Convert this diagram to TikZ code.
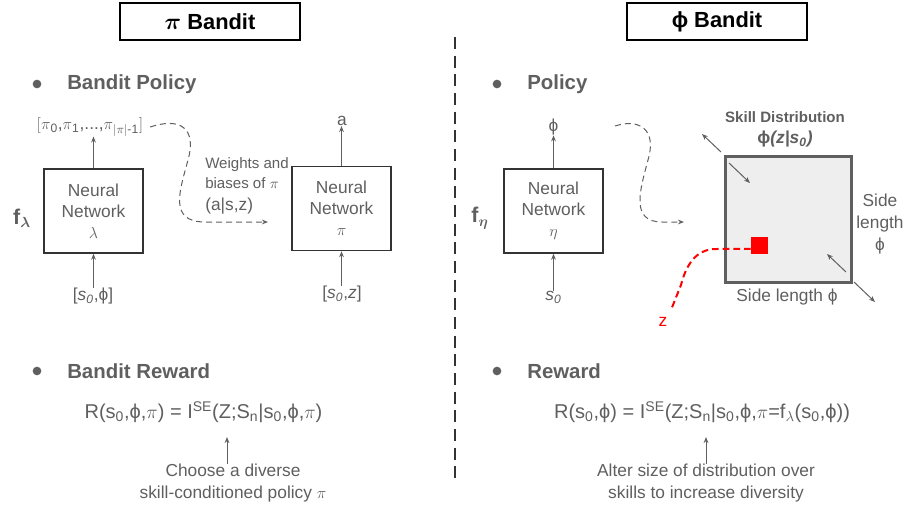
\documentclass[tikz,border=0pt]{standalone}
\usepackage{fontspec}
\setmainfont{Liberation Sans}
\usepackage{amsmath}
\usetikzlibrary{arrows.meta}
\definecolor{txt}{HTML}{5F5F5F}
\definecolor{ln}{HTML}{333333}
\definecolor{sq}{HTML}{EEEEEE}
\begin{document}
\begin{tikzpicture}[x=0.75pt,y=-0.75pt,
  every node/.style={text=txt, inner sep=0pt},
  body/.style={font=\fontsize{13}{16.5}\selectfont},
  head/.style={font=\bfseries\fontsize{15.3}{18}\selectfont, anchor=west},
  small/.style={font=\fontsize{11.3}{14}\selectfont, anchor=base west},
  titlebox/.style={draw=black, line width=1.1pt, minimum width=135pt, minimum height=27.75pt, text=black, font=\bfseries\fontsize{16.4}{19}\selectfont},
  nnbox/.style={draw=ln, line width=1.1pt, minimum width=74.25pt, minimum height=63pt, align=center, font=\fontsize{13}{15.75}\selectfont},
  arr/.style={draw=txt, line width=0.75pt, -{Stealth[length=4.5pt,width=3.5pt]}},
  darr/.style={draw=txt, line width=0.75pt, dash pattern=on 4.5pt off 3pt, -{Stealth[length=4.5pt,width=3.5pt]}},
  bullet/.style={circle, fill=txt, minimum size=6.5pt},
  formula/.style={font=\fontsize{15}{18}\selectfont},
  fsub/.style={font=\bfseries\fontsize{16}{19}\selectfont},
]
\useasboundingbox (0,0) rectangle (907,510);

% titles
\node[titlebox] (t1) at (210,21.5) {$\boldsymbol{\pi}$ Bandit};
\node[titlebox] (t2) at (717,21.5) {ϕ Bandit};

% divider
\coordinate (d1) at (455,37);
\coordinate (d2) at (455,478);
\draw[ln, line width=1pt, dash pattern=on 9pt off 5pt] (d1) -- (d2);

% headings
\node[bullet] (b1) at (37,84) {};
\node[head] (h1) at (67,84) {Bandit Policy};
\node[bullet] (b2) at (497,84) {};
\node[head] (h2) at (527,84) {Policy};
\node[bullet] (b3) at (37,371) {};
\node[head] (h3) at (67,371) {Bandit Reward};
\node[bullet] (b4) at (497,371) {};
\node[head] (h4) at (527,371) {Reward};

% left network lambda
\node[nnbox] (nnl) at (93.5,211) {Neural\\Network\\$\lambda$};
\node[body] (outl) at (90,127) {$[\pi$\textsubscript{0},$\pi$\textsubscript{1},...,$\pi$\textsubscript{$|\pi|$-1}$]$};
\node[body] (inl) at (93,296) {[\textit{s}\textsubscript{\textit{0}},ϕ]};
\draw[arr] (inl.north -| nnl.south) -- (nnl.south);
\draw[arr] (nnl.north) -- (nnl.north |- outl.south);
\node[fsub] (fl) at (22,218) {f$_{\boldsymbol{\lambda}}$};

% weights label
\node[small] (w1) at (205,168) {Weights and};
\node[small] (w2) at (205,188) {biases of $\pi$};
\node[body, anchor=base west] (w3) at (205,210) {(a|s,z)};
\coordinate (wend) at (268,222);
\draw[darr] ([xshift=5pt]outl.east) .. controls (180,117) and (197,128) .. (188,160) .. controls (180,190) and (168,222) .. (205,222) -- (wend);

% pi network
\node[nnbox] (nnp) at (341.5,208.5) {Neural\\Network\\$\pi$};
\node[body] (aout) at (342,121) {a};
\node[body] (inp) at (342,294) {[\textit{s}\textsubscript{\textit{0}},\textit{z}]};
\draw[arr] (inp.north -| nnp.south) -- (nnp.south);
\draw[arr] (nnp.north) -- (nnp.north |- aout.south);

% eta network
\node[nnbox] (nne) at (553.5,211) {Neural\\Network\\$\eta$};
\node[body] (phiout) at (553.5,127) {ϕ};
\node[body] (s0) at (553.5,297) {\textit{s}\textsubscript{\textit{0}}};
\draw[arr] (s0.north -| nne.south) -- (nne.south);
\draw[arr] (nne.north) -- (nne.north |- phiout.south);
\node[fsub] (fe) at (480,218) {f$_{\boldsymbol{\eta}}$};
\coordinate (pstart) at (615,126);
\coordinate (pend) at (684,222);
\draw[darr] (pstart) .. controls (640,118) and (657,130) .. (648,160) .. controls (640,190) and (630,222) .. (662,222) -- (pend);

% skill distribution square
\node[draw=txt, line width=2.25pt, fill=sq, minimum size=94.5pt] (sd) at (788,219) {};
\node[fill=red, minimum size=12.75pt] (rs) at (759.5,245.5) {};
\node[body, text=red] (zl) at (663,322) {z};
\coordinate (zc) at (671,310);
\draw[red, line width=1.5pt, dash pattern=on 5pt off 3pt] ([yshift=-2.6pt]rs.west) -- (716,249) .. controls (696,249) and (686,265) .. (681,285) -- (zc);
\node[font=\bfseries\fontsize{11.3}{14}\selectfont] (sdl) at (785,117) {Skill Distribution};
\node[font=\bfseries\fontsize{13}{16}\selectfont] (sdf) at (785,139) {ϕ\textit{(z|s\textsubscript{0})}};
\node[body, align=center] (sl) at (880,224) {Side\\length\\ϕ};
\node[body] (sb) at (787,297) {Side length ϕ};
\coordinate (a1) at (721,152); \coordinate (a2) at (702,134);
\coordinate (a3) at (729,163); \coordinate (a4) at (750,183);
\coordinate (a5) at (846,272); \coordinate (a6) at (827,254);
\coordinate (a7) at (854,282); \coordinate (a8) at (875,302);
\draw[arr] (a1) -- (a2);
\draw[arr] (a3) -- (a4);
\draw[arr] (a5) -- (a6);
\draw[arr] (a7) -- (a8);

% rewards
\node[formula] (f1) at (203.5,412) {R(s\textsubscript{0},ϕ,$\pi$) = I\textsuperscript{SE}(Z;S\textsubscript{n}|s\textsubscript{0},ϕ,$\pi$)};
\node[body, align=center] (c1) at (233,483) {Choose a diverse\\skill-conditioned policy $\pi$};
\coordinate (r1) at (227,437);
\draw[arr] (c1.north -| r1) -- (r1);
\node[formula] (f2) at (702,412) {R(s\textsubscript{0},ϕ) = I\textsuperscript{SE}(Z;S\textsubscript{n}|s\textsubscript{0},ϕ,$\pi$=f\textsubscript{$\lambda$}(s\textsubscript{0},ϕ))};
\node[body, align=center] (c2) at (706,483) {Alter size of distribution over\\skills to increase diversity};
\coordinate (r2) at (706,437);
\draw[arr] (c2.north -| r2) -- (r2);
\end{tikzpicture}
\end{document}
